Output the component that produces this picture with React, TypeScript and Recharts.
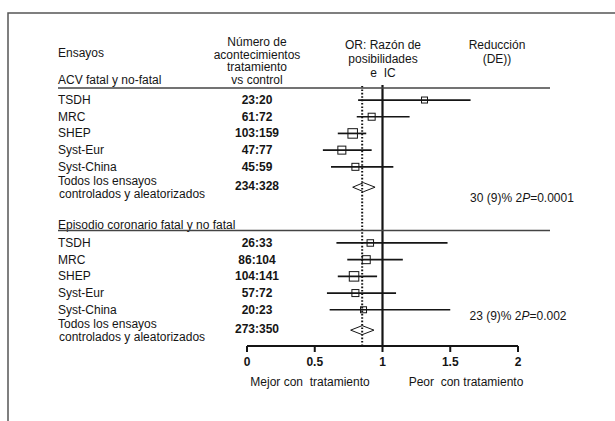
import React from "react";
import { ComposedChart, Scatter, ErrorBar, XAxis, YAxis, ReferenceLine } from "recharts";

const trials = ["TSDH", "MRC", "SHEP", "Syst-Eur", "Syst-China"];
const groups = ["ACV fatal y no-fatal", "Episodio coronario fatal y no fatal"];

// ACV (stroke) trials
const strokeCounts = ["23:20", "61:72", "103:159", "47:77", "45:59"];
const strokeOR = [1.31, 0.92, 0.78, 0.7, 0.8];
const strokeLow = [0.82, 0.81, 0.67, 0.56, 0.62];
const strokeHigh = [1.65, 1.2, 0.88, 0.92, 1.08];
const strokeWeight = [6, 7, 9.5, 8, 7];

// coronary trials
const coronaryCounts = ["26:33", "86:104", "104:141", "57:72", "20:23"];
const coronaryOR = [0.91, 0.88, 0.79, 0.8, 0.86];
const coronaryLow = [0.66, 0.74, 0.67, 0.59, 0.61];
const coronaryHigh = [1.48, 1.15, 0.96, 1.1, 1.5];
const coronaryWeight = [6.5, 8, 9.5, 7, 6];

// pooled ("Todos los ensayos") per group
const pooledCounts = ["234:328", "273:350"];
const pooledOR = [0.86, 0.85];
const pooledLow = [0.78, 0.765];
const pooledHigh = [0.945, 0.937];
const reduction = [30, 23];
const reductionSD = [9, 9];
const pValues = ["0.0001", "0.002"];

const overallOR = 0.85;
const xTicks = [0, 0.5, 1, 1.5, 2];

const FONT = "'Liberation Sans', Arial, Helvetica, sans-serif";
const INK = "#151515";

// row layout (in row units, top to bottom)
const groupStart = [0, 8.56];
const pooledOffset = 5.22;
const diamondHalf = 0.27;

const groupData = [
  { counts: strokeCounts, or: strokeOR, low: strokeLow, high: strokeHigh, w: strokeWeight },
  { counts: coronaryCounts, or: coronaryOR, low: coronaryLow, high: coronaryHigh, w: coronaryWeight },
];

const trialRows = groupData.flatMap((g, gi) =>
  trials.map((name, i) => ({
    name,
    count: g.counts[i],
    x: g.or[i],
    y: groupStart[gi] + i,
    err: [g.or[i] - g.low[i], g.high[i] - g.or[i]],
    w: g.w[i],
  }))
);

const pooledRows = pooledCounts.map((count, gi) => ({
  name: "pooled",
  count,
  y: groupStart[gi] + pooledOffset,
  or: pooledOR[gi],
  low: pooledLow[gi],
  high: pooledHigh[gi],
}));

const diamonds = pooledRows.map((p) => [
  { x: p.low, y: p.y },
  { x: p.or, y: p.y - diamondHalf },
  { x: p.high, y: p.y },
  { x: p.or, y: p.y + diamondHalf },
  { x: p.low, y: p.y },
]);

const labelRows = [...trialRows, ...pooledRows].sort((a, b) => a.y - b.y);
const rowTicks = labelRows.map((r) => r.y);

/* eslint-disable @typescript-eslint/no-explicit-any */
const BoxShape = (props: any) => {
  const { cx, cy, payload } = props;
  const s = payload.w;
  return <rect x={cx - s / 2} y={cy - s / 2} width={s} height={s} fill="none" stroke={INK} strokeWidth={1} />;
};

const NoShape = () => <g />;

const RowTick = (props: any) => {
  const { y, index } = props;
  const row = labelRows[index];
  if (!row) return null;
  const common = { fontFamily: FONT, fontSize: 12, fill: INK, dominantBaseline: "central" as const };
  if (row.name === "pooled") {
    return (
      <g>
        <text x={58} y={y - 6} {...common}>Todos los ensayos</text>
        <text x={59} y={y + 6.5} {...common}>controlados y aleatorizados</text>
        <text x={257} y={y - 1} textAnchor="middle" fontWeight="bold" {...common}>{row.count}</text>
      </g>
    );
  }
  return (
    <g>
      <text x={58} y={y} {...common}>{row.name}</text>
      <text x={257} y={y} textAnchor="middle" fontWeight="bold" {...common}>{row.count}</text>
    </g>
  );
};
/* eslint-enable @typescript-eslint/no-explicit-any */

function Overlay() {
  const t = { fontFamily: FONT, fontSize: 12, fill: INK, dominantBaseline: "central" as const };
  return (
    <svg width={615} height={421} style={{ position: "absolute", left: 0, top: 0, pointerEvents: "none" }}>
      <path d="M8 421 L8 13 L615 13" fill="none" stroke="#555" strokeWidth={1.5} />
      <text x={58} y={53} {...t}>Ensayos</text>
      <text x={58} y={80} {...t}>{groups[0]}</text>
      <text x={257} y={42} textAnchor="middle" {...t}>Número de</text>
      <text x={257} y={54.5} textAnchor="middle" {...t}>acontecimientos</text>
      <text x={257} y={67} textAnchor="middle" {...t}>tratamiento</text>
      <text x={257} y={79.5} textAnchor="middle" {...t}>vs control</text>
      <text x={383} y={45} textAnchor="middle" {...t}>OR: Razón de</text>
      <text x={383} y={59} textAnchor="middle" {...t}>posibilidades</text>
      <text x={383} y={73} textAnchor="middle" {...t} style={{ whiteSpace: "pre" }}>e  IC</text>
      <text x={497} y={45} textAnchor="middle" {...t}>Reducción</text>
      <text x={497} y={59} textAnchor="middle" {...t}>(DE))</text>
      <line x1={58} x2={550} y1={88} y2={88} stroke="#444" strokeWidth={1.3} />
      <text x={58} y={225} {...t}>{groups[1]}</text>
      <line x1={58} x2={550} y1={230.5} y2={230.5} stroke="#444" strokeWidth={1.3} />
      <text x={522} y={198} textAnchor="middle" {...t}>
        {`${reduction[0]} (${reductionSD[0]})% 2`}<tspan fontStyle="italic">P</tspan>{`=${pValues[0]}`}
      </text>
      <text x={518} y={316} textAnchor="middle" {...t}>
        {`${reduction[1]} (${reductionSD[1]})% 2`}<tspan fontStyle="italic">P</tspan>{`=${pValues[1]}`}
      </text>
      <text x={310} y={382} textAnchor="middle" {...t} style={{ whiteSpace: "pre" }}>Mejor con  tratamiento</text>
      <text x={466} y={382} textAnchor="middle" {...t} style={{ whiteSpace: "pre" }}>Peor  con tratamiento</text>
    </svg>
  );
}

export default function App() {
  return (
    <div style={{ position: "absolute", left: 0, top: 0, width: 615, height: 421, background: "#fff" }}>
      <ComposedChart width={615} height={421} margin={{ top: 85, right: 97, bottom: 45, left: 47 }}>
        <XAxis
          type="number"
          dataKey="x"
          domain={[0, 2]}
          ticks={xTicks}
          allowDataOverflow
          axisLine={{ stroke: INK, strokeWidth: 2 }}
          tickLine={{ stroke: INK, strokeWidth: 2 }}
          tickSize={6}
          tickMargin={5}
          height={30}
          tick={{ fontFamily: FONT, fontSize: 12, fontWeight: "bold", fill: INK }}
        />
        <YAxis
          type="number"
          dataKey="y"
          domain={[-0.9, 14.73]}
          reversed
          allowDataOverflow
          ticks={rowTicks}
          interval={0}
          width={200}
          axisLine={false}
          tickLine={false}
          tick={<RowTick />}
        />
        <ReferenceLine x={1} stroke={INK} strokeWidth={2.2} />
        <ReferenceLine x={overallOR} stroke={INK} strokeWidth={2} strokeDasharray="1.6 1.8" />
        <Scatter data={trialRows} shape={<BoxShape />} isAnimationActive={false}>
          <ErrorBar dataKey="err" direction="x" width={0} stroke={INK} strokeWidth={1.7} isAnimationActive={false} />
        </Scatter>
        {diamonds.map((d, i) => (
          <Scatter
            key={i}
            data={d}
            line={{ stroke: INK, strokeWidth: 1 }}
            shape={<NoShape />}
            fill="#fff"
            isAnimationActive={false}
          />
        ))}
      </ComposedChart>
      <Overlay />
    </div>
  );
}
